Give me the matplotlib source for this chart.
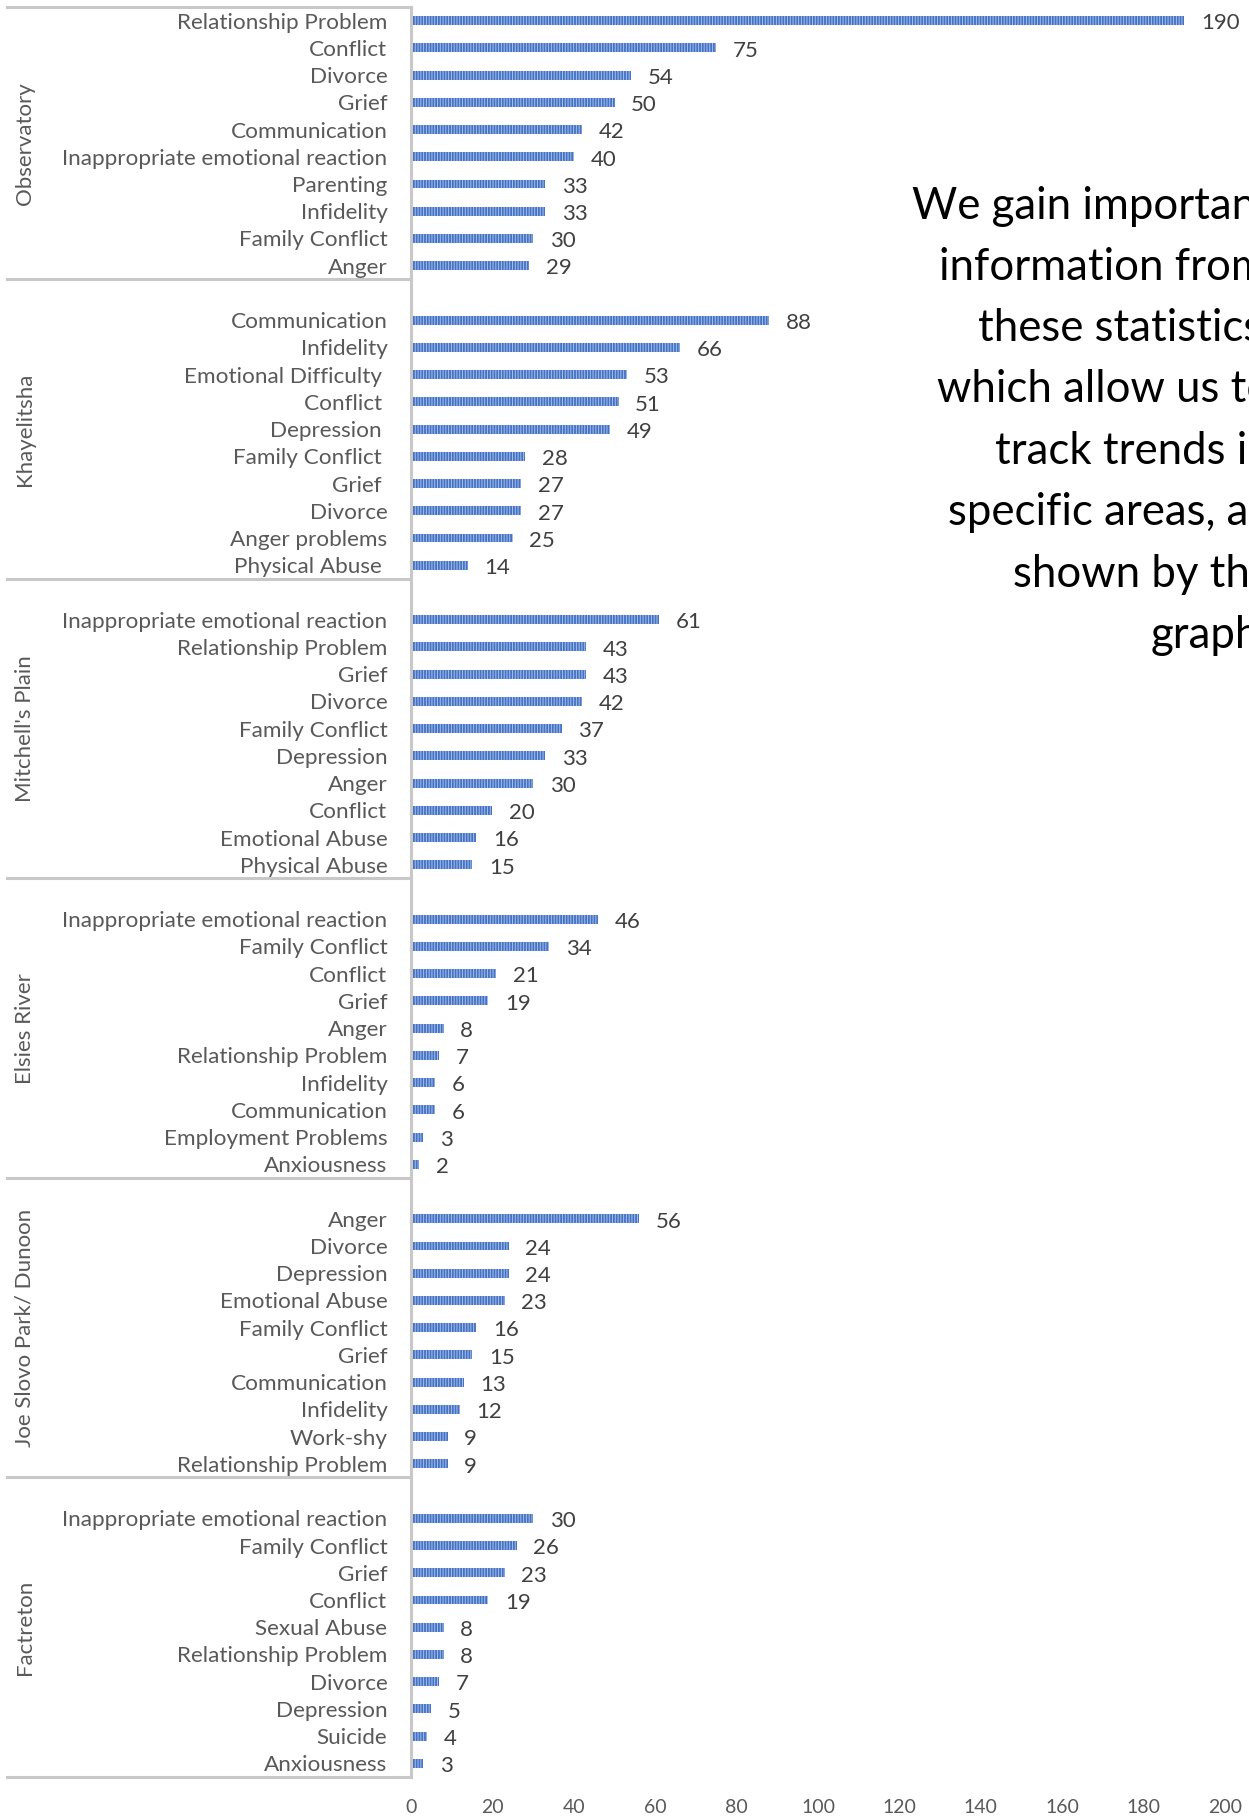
"""
Counselling issues per area - horizontal bar chart with grouped categories.
"""
# Library import
import matplotlib
matplotlib.use("Agg")
import matplotlib.pyplot as plt
import matplotlib.transforms as mtransforms

# Plot style configuration
plt.rcParams["font.family"] = ["Lato", "DejaVu Sans"]
plt.rcParams["hatch.linewidth"] = 0.7

# Data
areas = [
    "Observatory",
    "Khayelitsha",
    "Mitchell's Plain",
    "Elsies River",
    "Joe Slovo Park/ Dunoon",
    "Factreton",
]
obs_issues = ["Relationship Problem", "Conflict", "Divorce", "Grief", "Communication",
              "Inappropriate emotional reaction", "Parenting", "Infidelity",
              "Family Conflict", "Anger"]
obs_counts = [190, 75, 54, 50, 42, 40, 33, 33, 30, 29]
kha_issues = ["Communication", "Infidelity", "Emotional Difficulty ", "Conflict ",
              "Depression ", "Family Conflict ", "Grief ", "Divorce",
              "Anger problems", "Physical Abuse "]
kha_counts = [88, 66, 53, 51, 49, 28, 27, 27, 25, 14]
mit_issues = ["Inappropriate emotional reaction", "Relationship Problem", "Grief",
              "Divorce", "Family Conflict", "Depression", "Anger", "Conflict",
              "Emotional Abuse", "Physical Abuse"]
mit_counts = [61, 43, 43, 42, 37, 33, 30, 20, 16, 15]
els_issues = ["Inappropriate emotional reaction", "Family Conflict", "Conflict",
              "Grief", "Anger", "Relationship Problem", "Infidelity",
              "Communication", "Employment Problems", "Anxiousness"]
els_counts = [46, 34, 21, 19, 8, 7, 6, 6, 3, 2]
joe_issues = ["Anger", "Divorce", "Depression", "Emotional Abuse", "Family Conflict",
              "Grief", "Communication", "Infidelity", "Work-shy",
              "Relationship Problem"]
joe_counts = [56, 24, 24, 23, 16, 15, 13, 12, 9, 9]
fac_issues = ["Inappropriate emotional reaction", "Family Conflict", "Grief",
              "Conflict", "Sexual Abuse", "Relationship Problem", "Divorce",
              "Depression", "Suicide", "Anxiousness"]
fac_counts = [30, 26, 23, 19, 8, 8, 7, 5, 4, 3]

x_ticks = [0, 20, 40, 60, 80, 100, 120, 140, 160, 180, 200]

note_lines = [
    "We gain important",
    "information from",
    "these statistics",
    "which allow us to",
    "track trends in",
    "specific areas, as",
    "shown by the",
    "graph.",
]

issues = [obs_issues, kha_issues, mit_issues, els_issues, joe_issues, fac_issues]
counts = [obs_counts, kha_counts, mit_counts, els_counts, joe_counts, fac_counts]

# Slot positions: every area gets 11 slots, first slot of each is blank
slot = 11
pos, labels, values = [], [], []
for k in range(len(areas)):
    for j in range(len(issues[k])):
        pos.append(slot * k + j)
        labels.append(issues[k][j])
        values.append(counts[k][j])

grey_line = "#C8C8C8"
label_col = "#595959"

fig = plt.figure(figsize=(12.49, 18.17), dpi=100)
ax = fig.add_axes([411 / 1249, 1 - 1777 / 1817, 814 / 1249, 1770 / 1817])

bars = ax.barh(
    pos, values, height=0.33, color="#4472C4", edgecolor="#A8C0EA",
    linewidth=0, hatch="||||||",
)
# Value labels, nudged a touch lower like the original
for p, v in zip(pos, values):
    ax.annotate(str(v), (v, p), xytext=(12, -2), textcoords="offset points",
                ha="left", va="center", fontsize=16, color="#404040")

ax.set_ylim(pos[-1] + 0.5, -0.5)
ax.set_xlim(0, 200)
ax.set_yticks(pos)
ax.set_yticklabels(labels, fontsize=16.2, color=label_col)
ax.set_xticks(x_ticks)
ax.set_xticklabels([str(t) for t in x_ticks], fontsize=14, color=label_col)
ax.tick_params(axis="y", length=0, pad=17)
ax.tick_params(axis="x", length=0, pad=16)

for s in ["top", "right", "bottom"]:
    ax.spines[s].set_visible(False)
ax.spines["left"].set_color(grey_line)
ax.spines["left"].set_linewidth(2.2)

# Group separators and area names
trans = mtransforms.blended_transform_factory(ax.transAxes, ax.transData)
left_x = -404 / 814
ax.plot([left_x, 0], [-0.5, -0.5], transform=trans, color=grey_line,
        lw=2.2, clip_on=False)
for k in range(len(areas)):
    bottom = slot * k + len(issues[k]) - 0.5
    top = -0.5 if k == 0 else slot * k - 1.5
    ax.plot([left_x, 0], [bottom, bottom], transform=trans, color=grey_line,
            lw=2.2, clip_on=False)
    ax.text(-386 / 814, (top + bottom) / 2, areas[k], transform=trans,
            rotation=90, ha="center", va="center", fontsize=16, color=label_col)

# Side note (runs off the right edge like the slide)
note_x = [912, 939, 978, 937, 995, 948, 1013, 1151]
note_y = [219, 280, 341, 402, 464, 525, 587, 648]
for line, nx, ny in zip(note_lines, note_x, note_y):
    fig.text(nx / 1249, 1 - ny / 1817, line, ha="left", va="baseline",
             fontsize=31.5, color="black")

fig.savefig("out.png", dpi=100)
plt.close()
